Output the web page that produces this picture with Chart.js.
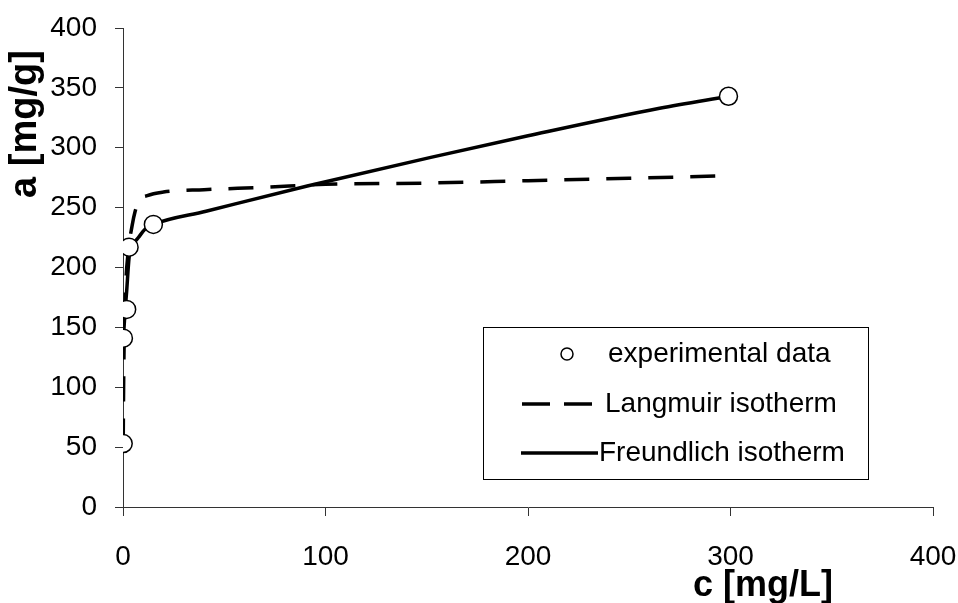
<!DOCTYPE html>
<html>
<head>
<meta charset="utf-8">
<script src="https://cdn.jsdelivr.net/npm/chart.js@4.4.1/dist/chart.umd.min.js"></script>
<style>
  html, body { margin: 0; padding: 0; background: #fff; }
  #wrap { width: 958px; height: 603px; }
</style>
</head>
<body>
<div id="wrap"><canvas id="c" width="958" height="603"></canvas></div>
<script>
// ---- data ----
const expC = [0.1, 0.2, 1.8, 3, 15, 299];
const expA = [53, 141, 165, 217, 236, 343];

const langC = [0.1, 0.3, 0.6, 1.2, 2.5, 4.5, 6, 8, 12, 20, 40, 70, 100, 150, 200, 250, 295];
const langA = [53, 100, 140, 180, 212, 235, 247, 256, 260, 263, 265, 267, 269.5, 270.5, 272.5, 274.5, 276.5];

const freuC = [0.2, 0.8, 1.8, 3, 5, 7.6, 10.9, 15, 41, 91, 152, 200, 265, 299];
const freuA = [141, 158, 180, 208, 219, 225, 232, 236, 247, 268, 292, 310, 333, 343];

const xTicks = [0, 100, 200, 300, 400];
const yTicks = [0, 50, 100, 150, 200, 250, 300, 350, 400];

const legendLabels = ['experimental data', 'Langmuir isotherm', 'Freundlich isotherm'];
const xTitle = 'c [mg/L]';
const yTitle = 'a [mg/g]';

const FONT = '"Liberation Sans", Arial, sans-serif';
const toPts = (xs, ys) => xs.map((x, i) => ({ x: x, y: ys[i] }));

const legendPlugin = {
  id: 'customLegend',
  afterDraw(chart) {
    const ctx = chart.ctx;
    ctx.save();
    // axis titles
    ctx.fillStyle = '#000';
    ctx.textAlign = 'center';
    ctx.textBaseline = 'middle';
    ctx.font = 'bold 36px ' + FONT;
    ctx.fillText(xTitle, 763, 586);
    ctx.save();
    ctx.font = 'bold 38px ' + FONT;
    ctx.translate(26, 124);
    ctx.rotate(-Math.PI / 2);
    ctx.fillText(yTitle, 0, 0);
    ctx.restore();

    // legend box
    ctx.fillStyle = '#fff';
    ctx.fillRect(483, 327, 385, 152);
    ctx.strokeStyle = '#000';
    ctx.lineWidth = 1;
    ctx.strokeRect(483.5, 327.5, 385, 152);

    const rows = [354, 404, 453];
    const textX = [608, 605, 599];
    // row 1: circle marker
    ctx.beginPath();
    ctx.arc(567, rows[0], 6, 0, Math.PI * 2);
    ctx.fillStyle = '#fff';
    ctx.fill();
    ctx.lineWidth = 1.5;
    ctx.strokeStyle = '#000';
    ctx.stroke();
    // row 2: dashed sample
    ctx.lineWidth = 3.5;
    ctx.beginPath();
    ctx.moveTo(522, rows[1]); ctx.lineTo(550, rows[1]);
    ctx.moveTo(564, rows[1]); ctx.lineTo(592, rows[1]);
    ctx.stroke();
    // row 3: solid sample
    ctx.beginPath();
    ctx.moveTo(521, rows[2]); ctx.lineTo(598, rows[2]);
    ctx.stroke();

    ctx.fillStyle = '#000';
    ctx.font = '28px ' + FONT;
    ctx.textAlign = 'left';
    ctx.textBaseline = 'middle';
    legendLabels.forEach((t, i) => ctx.fillText(t, textX[i], rows[i]));
    ctx.restore();
  }
};

new Chart(document.getElementById('c'), {
  type: 'scatter',
  data: {
    datasets: [
      {
        label: legendLabels[0],
        data: toPts(expC, expA),
        showLine: false,
        pointRadius: 9,
        pointBorderWidth: 1.5,
        pointBackgroundColor: '#fff',
        pointBorderColor: '#000',
        order: 0
      },
      {
        label: legendLabels[1],
        data: toPts(langC, langA),
        showLine: true,
        borderColor: '#000',
        borderWidth: 3.5,
        borderDash: [25, 17],
        pointRadius: 0,
        cubicInterpolationMode: 'monotone',
        order: 2
      },
      {
        label: legendLabels[2],
        data: toPts(freuC, freuA),
        showLine: true,
        borderColor: '#000',
        borderWidth: 3.5,
        pointRadius: 0,
        cubicInterpolationMode: 'monotone',
        order: 1
      }
    ]
  },
  options: {
    responsive: false,
    animation: false,
    layout: { padding: { top: 28, right: 25, left: 0, bottom: 0 } },
    plugins: { legend: { display: false }, tooltip: { enabled: false } },
    scales: {
      x: {
        type: 'linear',
        min: 0, max: 400,
        afterBuildTicks: (s) => { s.ticks = xTicks.map(v => ({ value: v })); },
        afterFit: (s) => { s.height = 96; s.paddingLeft = 0; s.paddingRight = 0; },
        grid: { drawOnChartArea: false, drawTicks: true, tickLength: 9, color: '#333' },
        border: { display: true, color: '#333', width: 1 },
        ticks: { color: '#000', font: { family: FONT, size: 28 }, padding: 24, maxRotation: 0 }
      },
      y: {
        type: 'linear',
        min: 0, max: 400,
        afterBuildTicks: (s) => { s.ticks = yTicks.map(v => ({ value: v })); },
        afterFit: (s) => { s.width = 123; s.paddingTop = 0; s.paddingBottom = 0; },
        grid: { drawOnChartArea: false, drawTicks: true, tickLength: 8, color: '#333' },
        border: { display: true, color: '#333', width: 1 },
        ticks: { color: '#000', font: { family: FONT, size: 28 }, padding: 18 }
      }
    }
  },
  plugins: [legendPlugin]
});
</script>
</body>
</html>
